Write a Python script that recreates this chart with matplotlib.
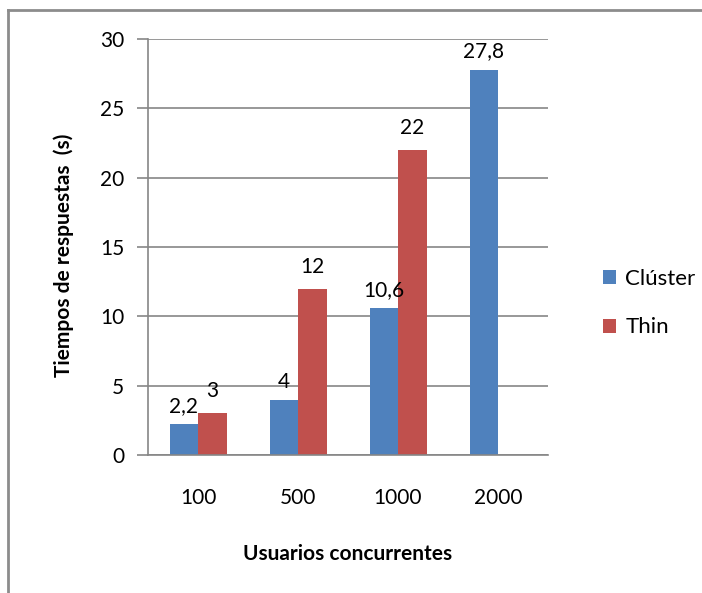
import matplotlib.pyplot as plt
from matplotlib.lines import Line2D
import numpy as np

categories = ['100', '500', '1000', '2000']
cluster = [2.2, 4, 10.6, 27.8]
thin = [3, 12, 22, None]
cluster_labels = ['2,2', '4', '10,6', '27,8']
thin_labels = ['3', '12', '22', '']

plt.rcParams['font.family'] = ['Lato', 'DejaVu Sans']

fig = plt.figure(figsize=(7.02, 5.93), dpi=100)
ax = fig.add_axes([148 / 702, 1 - 455 / 593, 400 / 702, 416 / 593])

x = np.arange(len(categories))
w = 0.285
thin_vals = [v if v is not None else 0 for v in thin]
b1 = ax.bar(x - w / 2, cluster, w, color='#4F81BD', label='Clúster', zorder=3)
b2 = ax.bar(x + w / 2, thin_vals, w, color='#C0504D', label='Thin', zorder=3)

for rect, lab in zip(b1, cluster_labels):
    ax.annotate(lab, (rect.get_x() + rect.get_width() / 2, rect.get_height()),
                xytext=(0, 12), textcoords='offset pixels', ha='center', va='baseline', fontsize=15)
for rect, lab in zip(b2, thin_labels):
    if lab:
        ax.annotate(lab, (rect.get_x() + rect.get_width() / 2, rect.get_height()),
                    xytext=(0, 16), textcoords='offset pixels', ha='center', va='baseline', fontsize=15)

ax.set_xlim(-0.5, 3.5)
ax.set_ylim(0, 30)
ax.set_yticks(range(0, 31, 5))
ax.set_xticks(x)
ax.set_xticklabels(categories)
ax.yaxis.grid(True, color='#868686', linewidth=1.2, zorder=0)
for s in ['top', 'right']:
    ax.spines[s].set_visible(False)
for s in ['left', 'bottom']:
    ax.spines[s].set_color('#868686')
    ax.spines[s].set_linewidth(1.2)
ax.spines['bottom'].set_zorder(4)
ax.tick_params(axis='y', length=8, color='#868686', width=1.2, labelsize=15, pad=9)
ax.tick_params(axis='x', length=0, labelsize=15, pad=24)

ax.set_ylabel('Tiempos de respuestas  (s)', fontsize=15, fontweight='bold')
ax.yaxis.set_label_coords(-0.185, 0.48)
ax.set_xlabel('Usuarios concurrentes', fontsize=15, fontweight='bold', labelpad=26)

fig.legend(handles=[b1, b2], loc='center left', bbox_to_anchor=(583 / 702, 1 - 303 / 593),
           frameon=False, fontsize=16, handlelength=0.6, handleheight=0.6,
           handletextpad=0.4, labelspacing=1.3)

# chart border (left and top edges only visible)
fig.add_artist(Line2D([8 / 702, 8 / 702], [0, 1 - 10 / 593], transform=fig.transFigure,
                      color='#8c8c8c', linewidth=2))
fig.add_artist(Line2D([8 / 702, 1.05], [1 - 10 / 593, 1 - 10 / 593], transform=fig.transFigure,
                      color='#8c8c8c', linewidth=2))

fig.savefig('out.png', dpi=100)
